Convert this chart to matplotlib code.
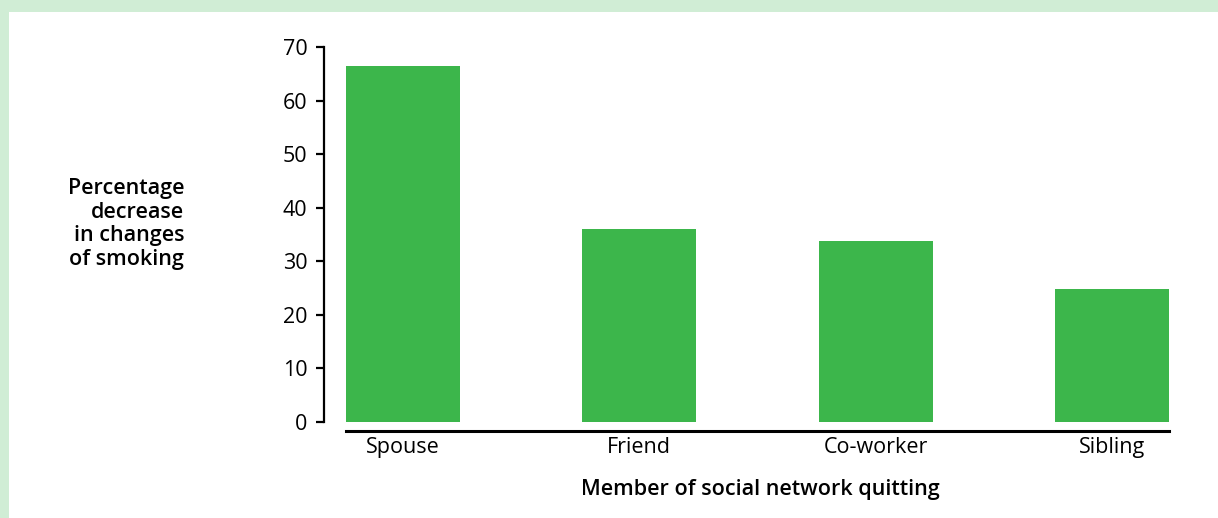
import matplotlib.pyplot as plt
from matplotlib.patches import Rectangle

# === Data ===
categories = ["Spouse", "Friend", "Co-worker", "Sibling"]
values = [66.5, 36.0, 33.8, 24.8]
yticks = [0, 10, 20, 30, 40, 50, 60, 70]

bar_color = "#3cb64b"
frame_color = "#d0edd5"

W, H = 1218, 518
plt.rcParams['font.family'] = ['Open Sans', 'DejaVu Sans']

fig = plt.figure(figsize=(W / 100, H / 100), dpi=100)
fig.patch.set_facecolor("white")

# light green frame (top and left strips)
fig.patches.append(Rectangle((0, 1 - 12 / H), 1, 12 / H, transform=fig.transFigure,
                             facecolor=frame_color, edgecolor="none", zorder=0))
fig.patches.append(Rectangle((0, 0), 9 / W, 1, transform=fig.transFigure,
                             facecolor=frame_color, edgecolor="none", zorder=0))

left, right, top, bottom = 324, 1169, 47, 431
ax = fig.add_axes([left / W, (H - bottom) / H, (right - left) / W, (bottom - top) / H])
ax.set_facecolor("none")

x = list(range(len(categories)))
width = 0.482
ax.bar(x, values, width=width, color=bar_color, zorder=2)

ax.set_xlim(-0.334, len(categories) - 1 + width / 2)
ax.set_ylim(-1.68, 70)

for s in ["top", "right"]:
    ax.spines[s].set_visible(False)
ax.spines["left"].set_bounds(0, 70)
ax.spines["left"].set_linewidth(1.6)
ax.spines["bottom"].set_bounds(-width / 2, len(categories) - 1 + width / 2)
ax.spines["bottom"].set_linewidth(2.2)

ax.set_yticks(yticks)
ax.set_yticklabels([str(t) for t in yticks], fontsize=15.5)
ax.tick_params(axis="y", length=6, width=1.6, pad=6)
ax.set_xticks(x)
ax.set_xticklabels(categories, fontsize=15.5)
ax.tick_params(axis="x", length=0, pad=4)

ax.set_xlabel("Member of social network quitting", fontsize=15.5,
              fontweight="semibold")
ax.xaxis.set_label_coords(0.516, -0.125)

fig.text(184 / W, (H - 224) / H, "Percentage\ndecrease\nin changes\nof smoking",
         ha="right", va="center", multialignment="right", fontsize=15.5,
         fontweight="semibold", linespacing=1.15)

fig.savefig("out.png", dpi=100, facecolor=fig.get_facecolor())
